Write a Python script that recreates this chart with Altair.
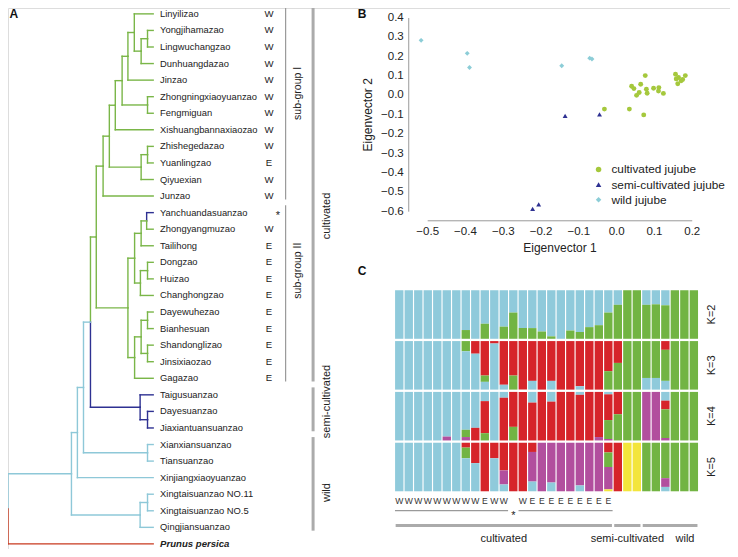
import altair as alt
import pandas as pd

# ---------------- canvas mapping (reference px -> canvas px) ----------------
W, H = 722, 541
SX = W / 736.0
SY = H / 553.0


def fx(v):
    return (v - 2) * SX


def fy(v):
    return (v - 3) * SY


FONT = "Liberation Sans"
TXT = "#222222"

# ---------------- Panel A data ----------------
leaf_names = ["Linyilizao", "Yongjihamazao", "Lingwuchangzao", "Dunhuangdazao", "Jinzao",
              "Zhongningxiaoyuanzao", "Fengmiguan", "Xishuangbannaxiaozao", "Zhishegedazao",
              "Yuanlingzao", "Qiyuexian", "Junzao", "Yanchuandasuanzao", "Zhongyangmuzao",
              "Tailihong", "Dongzao", "Huizao", "Changhongzao", "Dayewuhezao", "Bianhesuan",
              "Shandonglizao", "Jinsixiaozao", "Gagazao", "Taigusuanzao", "Dayesuanzao",
              "Jiaxiantuansuanzao", "Xianxiansuanzao", "Tiansuanzao", "Xinjiangxiaoyuanzao",
              "Xingtaisuanzao NO.11", "Xingtaisuanzao NO.5", "Qingjiansuanzao", "Prunus persica"]
leaf_origin = list("WWWWWWWWWEWW") + ["*"] + list("WEEEEEEEEE") + [""] * 10
leaf_group = (["cultivated"] * 12 + ["semi-cultivated"] + ["cultivated"] * 10 +
              ["semi-cultivated"] * 3 + ["wild"] * 6 + ["outgroup"])

# tree: (node distance from root, group, children); ints are leaf indices
sub1 = (0.655, "cultivated", [
    (0.698, "cultivated", [
        (0.739, "cultivated", [
            (0.786, "cultivated", [
                (0.826, "cultivated", [
                    (0.870, "cultivated", [0, (0.917, "cultivated", [(0.961, "cultivated", [1, 2]), 3])]),
                    4]),
                (0.961, "cultivated", [5, 6])]),
            7]),
        (0.917, "cultivated", [(0.961, "cultivated", [8, 9]), 10])]),
    11])
sub2 = (0.826, "cultivated", [
    (0.872, "cultivated", [
        (0.917, "cultivated", [(0.955, "cultivated", [12, 13]), 14]),
        (0.912, "cultivated", [(0.961, "cultivated", [15, 16]), 17])]),
    (0.872, "cultivated", [
        (0.917, "cultivated", [(0.961, "cultivated", [18, 19]), (0.961, "cultivated", [20, 21])]),
        22])])
tree = (0.0, "wild", [
    (0.437, "wild", [
        (0.478, "wild", [
            (0.520, "wild", [
                (0.568, "wild", [
                    (0.608, "cultivated", [sub1, sub2]),
                    (0.910, "semi-cultivated", [23, (0.961, "semi-cultivated", [24, 25])])]),
                (0.961, "wild", [26, 27])]),
            28]),
        (0.910, "wild", [(0.961, "wild", [29, 30]), 31])]),
    32])

sub_names = ["sub-group I", "sub-group II"]
sub_first = [0, 12]
sub_last = [11, 22]
sub_label_at = [4.8, 15.5]
grp_names = ["cultivated", "semi-cultivated", "wild"]
grp_first = [0, 23, 26]
grp_last = [22, 25, 31]
grp_label_at = [12.2, 23.4, 28.9]

# ---------------- Panel B data ----------------
pca_types = ["cultivated jujube", "semi-cultivated jujube", "wild jujube"]
cult_x = [0.157, 0.159, 0.183, 0.176, 0.163, 0.172, 0.165, 0.077, 0.041, 0.047, 0.065,
          0.099, 0.113, 0.080, 0.061, 0.054, 0.082, 0.112, 0.125, -0.031, 0.035, 0.073]
cult_y = [0.107, 0.083, 0.100, 0.080, 0.058, 0.073, 0.090, 0.100, 0.045, 0.033, 0.055,
          0.035, 0.038, 0.030, 0.013, -0.002, 0.009, 0.020, 0.008, -0.073, -0.073, -0.103]
semi_x = [-0.135, -0.044, -0.221, -0.205]
semi_y = [-0.108, -0.100, -0.588, -0.565]
wild_x = [-0.516, -0.394, -0.388, -0.144, -0.070, -0.064]
wild_y = [0.282, 0.215, 0.142, 0.151, 0.190, 0.186]

# ---------------- Panel C data (membership, top to bottom, percent) ----------------
struct_K = ["K=2", "K=3", "K=4", "K=5"]
K2 = ["b100"] * 7 + ["b82 g18", "b100", "b69 g31", "b100", "b75 g25", "b46 g54", "b78 g22",
                     "b78 g22", "b85 g15", "b95 g5", "b100", "b83 g17", "b86 g14", "b76 g24",
                     "b72 g28", "b46 g54", "b30 g70", "g100", "g100", "b30 g70", "b29 g71",
                     "b31 g69", "g100", "g100", "g100"]
K3 = ["b100"] * 7 + ["g21 b79", "r26 b74", "r71 g13 b16", "r5 b95", "r90 b10", "r71 g29",
                     "r100", "r82 b18", "r100", "r82 b18", "r100", "r100", "r93 b7", "r100",
                     "r100", "r62 g38", "r45 g55", "g100", "g100", "g76 b24", "g76 b24",
                     "r18 g64 b18", "g100", "g100", "g100"]
K4 = ["b100"] * 5 + ["b92 m8", "b100", "b78 g15 m7", "b74 r26", "b19 r66 g15", "b100",
                     "b12 r88", "r72 g28", "r100", "b22 r78", "r100", "b20 r80", "r100",
                     "r100", "b6 r94", "r100", "r93 m7", "b5 r53 g39 m3", "r46 g54", "g100",
                     "g100", "m100", "m100", "b18 r18 g59 m5", "g100", "g100", "g100"]
K5 = ["b100"] * 7 + ["r10 g22 b68", "r42 b58", "r100", "r32 b68", "r57 m29 b14", "r100",
                     "r100", "r19 m61 b20", "m100", "m82 b18", "m100", "m100", "m88 b12",
                     "m100", "m100", "r20 g30 m46 y4", "r100", "y100", "y100", "g100", "g100",
                     "g73 m18 b9", "g100", "g100", "g100"]
bar_group_first = [1, 24, 27]
bar_group_last = [23, 26, 32]
bar_sub_first = [1, 14]
bar_sub_last = [12, 23]

# ---------------- build tree segments ----------------
segs = []


def lay(node):
    if isinstance(node, int):
        return 1.0, float(node), leaf_group[node]
    h, g, kids = node
    res = [lay(k) for k in kids]
    y = sum(r[1] for r in res) / len(res)
    for cx, cy, cg in res:
        segs.append(dict(x=h, x2=h, y=y, y2=cy, g=cg))
        segs.append(dict(x=h, x2=cx, y=cy, y2=cy, g=cg))
    return h, y, g


lay(tree)
seg_df = pd.DataFrame(segs)
leaf_df = pd.DataFrame({"idx": list(range(len(leaf_names))), "name": leaf_names,
                        "origin": leaf_origin, "group": leaf_group})

TX = alt.Scale(domain=[0, 1], range=[fx(2), fx(150)], nice=False, zero=False)
TY = alt.Scale(domain=[0, 32], range=[fy(9), fy(550.8)], nice=False, zero=False)
TCOL = alt.Scale(domain=["cultivated", "semi-cultivated", "wild", "outgroup"],
                 range=["#7ab648", "#2e3192", "#8ec8d8", "#c8381e"])

tree_layer = alt.Chart(seg_df).mark_rule(strokeWidth=1.4, strokeCap="square").encode(
    x=alt.X("x:Q", scale=TX, axis=None), x2="x2:Q",
    y=alt.Y("y:Q", scale=TY, axis=None), y2="y2:Q",
    color=alt.Color("g:N", scale=TCOL, legend=None))

leaf_text = alt.Chart(leaf_df[leaf_df["group"] != "outgroup"]).mark_text(
    align="left", baseline="middle", fontSize=9.4, color=TXT).encode(
    x=alt.value(fx(157)), y=alt.Y("idx:Q", scale=TY, axis=None), text="name:N")
prunus_text = alt.Chart(leaf_df[leaf_df["group"] == "outgroup"]).mark_text(
    align="left", baseline="middle", fontSize=9.6, fontWeight="bold", fontStyle="italic",
    color=TXT).encode(
    x=alt.value(fx(157)), y=alt.Y("idx:Q", scale=TY, axis=None), text="name:N")
origin_text = alt.Chart(leaf_df[leaf_df["origin"].isin(["W", "E"])]).mark_text(
    align="center", baseline="middle", fontSize=9.6, color=TXT).encode(
    x=alt.value(fx(268)), y=alt.Y("idx:Q", scale=TY, axis=None), text="origin:N")
star_text = alt.Chart(leaf_df[leaf_df["origin"] == "*"]).mark_text(
    align="center", baseline="middle", fontSize=11, dy=3, color=TXT).encode(
    x=alt.value(fx(277)), y=alt.Y("idx:Q", scale=TY, axis=None), text="origin:N")

sub_df = pd.DataFrame({"name": sub_names, "lo": [f - 0.45 for f in sub_first],
                       "hi": [l + 0.2 for l in sub_last], "mid": sub_label_at})
grp_df = pd.DataFrame({"name": grp_names, "lo": [f - 0.45 for f in grp_first],
                       "hi": [l + 0.2 for l in grp_last], "mid": grp_label_at})
sub_rules = alt.Chart(sub_df).mark_rule(strokeWidth=1.2, color="#9a9a9a").encode(
    x=alt.value(fx(285)), y=alt.Y("lo:Q", scale=TY, axis=None), y2="hi:Q")
sub_text = alt.Chart(sub_df).mark_text(angle=270, baseline="middle", align="center",
                                       fontSize=10.5, color=TXT).encode(
    x=alt.value(fx(298)), y=alt.Y("mid:Q", scale=TY, axis=None), text="name:N")
grp_rules = alt.Chart(grp_df).mark_rule(strokeWidth=3, color="#ababab").encode(
    x=alt.value(fx(313)), y=alt.Y("lo:Q", scale=TY, axis=None), y2="hi:Q")
grp_text = alt.Chart(grp_df).mark_text(angle=270, baseline="middle", align="center",
                                       fontSize=11, color=TXT).encode(
    x=alt.value(fx(327)), y=alt.Y("mid:Q", scale=TY, axis=None), text="name:N")

# ---------------- Panel B ----------------
sc_df = pd.DataFrame({
    "x": cult_x + semi_x + wild_x,
    "y": cult_y + semi_y + wild_y,
    "type": [pca_types[0]] * len(cult_x) + [pca_types[1]] * len(semi_x) + [pca_types[2]] * len(wild_x)})
leg = alt.Legend(title=None, orient="none", legendX=fx(598), legendY=fy(162),
                 labelFontSize=11.8, symbolSize=30, labelOffset=7, rowPadding=2.2, padding=0,
                 labelColor=TXT, labelFont=FONT, labelLimit=200)
scatter = alt.Chart(sc_df).mark_point(filled=True, size=24, opacity=1).encode(
    x=alt.X("x:Q", scale=alt.Scale(domain=[-0.5, 0.2], range=[fx(429.3), fx(699)], nice=False, zero=False),
            axis=alt.Axis(orient="bottom", offset=fy(220) - H,
                          values=[-0.5, -0.4, -0.3, -0.2, -0.1, 0.0, 0.1, 0.2], format=".1f",
                          title="Eigenvector 1", grid=False, ticks=False, domainColor="#9a9a9a",
                          labelFontSize=11.5, titleFontSize=12, titleFontWeight="normal",
                          labelPadding=5, titlePadding=6, labelColor=TXT, titleColor=TXT,
                          labelFlush=False, labelOverlap=False)),
    y=alt.Y("y:Q", scale=alt.Scale(domain=[-0.6, 0.4], range=[fy(210.7), fy(12.7)], nice=False, zero=False),
            axis=alt.Axis(orient="left", offset=-fx(410),
                          values=[0.4, 0.3, 0.2, 0.1, 0.0, -0.1, -0.2, -0.3, -0.4, -0.5, -0.6],
                          format=".1f", title="Eigenvector 2", grid=False, ticks=False,
                          domainColor="#9a9a9a", labelFontSize=11.5, titleFontSize=12,
                          titleFontWeight="normal", labelPadding=5, titlePadding=6,
                          labelColor=TXT, titleColor=TXT, labelFlush=False, labelOverlap=False)),
    color=alt.Color("type:N", scale=alt.Scale(domain=pca_types, range=["#a5c83c", "#2e3192", "#8ccdd7"]),
                    legend=leg),
    shape=alt.Shape("type:N", scale=alt.Scale(domain=pca_types, range=["circle", "triangle-up", "diamond"]),
                    legend=leg))

# ---------------- Panel C ----------------
GAP = 0.045
BARPAD = 0.06
rows = []
for r, bars in enumerate([K2, K3, K4, K5]):
    for i, s in enumerate(bars):
        parts = [(t[0], float(t[1:])) for t in s.split()]
        tot = sum(v for _, v in parts)
        cum = 0.0
        for c, v in parts:
            v = v / tot
            rows.append(dict(x0=i + BARPAD, x1=i + 1 - BARPAD,
                             y0=r + (1 - GAP) * cum, y1=r + (1 - GAP) * (cum + v), c=c))
            cum += v
st_df = pd.DataFrame(rows)
CX = alt.Scale(domain=[0, 32], range=[fx(396), fx(706)], nice=False, zero=False)
CY = alt.Scale(domain=[0, 4 - GAP], range=[fy(291.5), fy(497)], nice=False, zero=False)
CCOL = alt.Scale(domain=["b", "r", "g", "m", "y"],
                 range=["#8fcadb", "#d6242a", "#72b443", "#b24f9e", "#f3e53c"])
struct = alt.Chart(st_df).mark_rect().encode(
    x=alt.X("x0:Q", scale=CX, axis=None), x2="x1:Q",
    y=alt.Y("y0:Q", scale=CY, axis=None), y2="y1:Q",
    color=alt.Color("c:N", scale=CCOL, legend=None))

k_df = pd.DataFrame({"k": struct_K, "mid": [r + (1 - GAP) / 2 for r in range(4)]})
k_text = alt.Chart(k_df).mark_text(angle=270, align="center", baseline="middle",
                                   fontSize=11, color=TXT).encode(
    x=alt.value(fx(720)), y=alt.Y("mid:Q", scale=CY, axis=None), text="k:N")

corig_df = pd.DataFrame({"pos": [i + 0.5 for i in range(23)], "t": leaf_origin[:23]})
c_orig = alt.Chart(corig_df[corig_df["t"].isin(["W", "E"])]).mark_text(
    align="center", baseline="middle", fontSize=8.6, color="#333333").encode(
    x=alt.X("pos:Q", scale=CX, axis=None), y=alt.value(fy(506.7)), text="t:N")
c_star = alt.Chart(corig_df[corig_df["t"] == "*"]).mark_text(
    align="center", baseline="middle", fontSize=11, color=TXT).encode(
    x=alt.X("pos:Q", scale=CX, axis=None), y=alt.value(fy(522)), text="t:N")
csub_df = pd.DataFrame({"lo": [f - 1 + 0.05 for f in bar_sub_first],
                        "hi": [l - 0.05 for l in bar_sub_last]})
c_sub = alt.Chart(csub_df).mark_rule(strokeWidth=1.3, color="#9a9a9a").encode(
    x=alt.X("lo:Q", scale=CX, axis=None), x2="hi:Q", y=alt.value(fy(516.7)))
cgrp_df = pd.DataFrame({"name": grp_names,
                        "lo": [f - 1 + 0.12 for f in bar_group_first],
                        "hi": [l - 0.12 for l in bar_group_last]})
cgrp_df["mid"] = (cgrp_df["lo"] + cgrp_df["hi"]) / 2
c_grp = alt.Chart(cgrp_df).mark_rule(strokeWidth=3, color="#ababab").encode(
    x=alt.X("lo:Q", scale=CX, axis=None), x2="hi:Q", y=alt.value(fy(532)))
c_grp_text = alt.Chart(cgrp_df[cgrp_df["name"] != "wild"]).mark_text(
    align="center", baseline="middle", fontSize=11, color=TXT).encode(
    x=alt.X("mid:Q", scale=CX, axis=None), y=alt.value(fy(545.7)), text="name:N")
c_wild_text = alt.Chart(cgrp_df[cgrp_df["name"] == "wild"]).mark_text(
    align="right", baseline="middle", fontSize=11, dx=-3, color=TXT).encode(
    x=alt.X("hi:Q", scale=CX, axis=None), y=alt.value(fy(545.7)), text="name:N")


def letter(t, x, y):
    return alt.Chart(pd.DataFrame({"t": [t]})).mark_text(
        align="center", baseline="top", fontSize=12, fontWeight="bold", color="#111111").encode(
        x=alt.value(fx(x)), y=alt.value(y), text="t:N")


chart = alt.layer(
    tree_layer, leaf_text, prunus_text, origin_text, star_text,
    sub_rules, sub_text, grp_rules, grp_text,
    scatter,
    struct, k_text, c_orig, c_star, c_sub, c_grp, c_grp_text, c_wild_text,
    letter("A", 8, 1), letter("B", 363, 1), letter("C", 363, fy(267)),
).resolve_scale(
    x="independent", y="independent", color="independent", shape="independent"
).properties(
    width=W, height=H, padding=0, autosize=alt.AutoSizeParams(type="none")
).configure_view(stroke=None).configure(font=FONT)

chart.save("out.html", embed_options={"renderer": "svg", "actions": False})
